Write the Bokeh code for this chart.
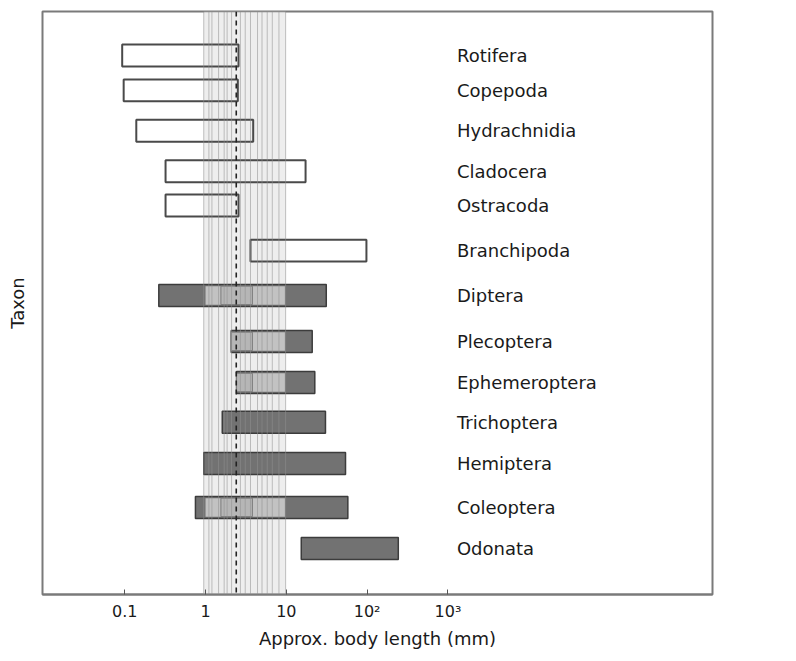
from bokeh.plotting import figure
from bokeh.models import (FixedTicker, Span, ColumnDataSource, BoxAnnotation,
                          Range1d)
from bokeh.core.properties import value
from bokeh.embed import file_html
from bokeh.resources import INLINE

# ---------------- data ----------------
taxa = ["Rotifera", "Copepoda", "Hydrachnidia", "Cladocera", "Ostracoda",
        "Branchipoda", "Diptera", "Plecoptera", "Ephemeroptera", "Trichoptera",
        "Hemiptera", "Coleoptera", "Odonata"]
# position of each taxon on the (unlabelled) taxon axis, as drawn in the original
row_pos = [12.0, 11.15, 10.17, 9.18, 8.35, 7.25, 6.16, 5.04, 4.04, 3.07, 2.07, 1.0, 0.0]
min_len = [0.093, 0.097, 0.139, 0.32, 0.32, 3.6, 0.264, 2.08, 2.42, 1.61, 0.95, 0.75, 15.3]
max_len = [2.56, 2.51, 3.89, 17.3, 2.56, 98, 31.2, 20.9, 22.5, 30.5, 54, 57.7, 243]
filled = [False, False, False, False, False, False, True, True, True, True, True, True, True]

# light sub-range (overlap with the grey band) for some insect taxa
sub_taxa = ["Diptera", "Plecoptera", "Ephemeroptera", "Coleoptera"]
sub_lo = [1.0, 2.08, 2.42, 1.0]
sub_hi = [9.6, 9.6, 9.6, 9.6]
inner_lo = [1.55, 2.08, 2.42, 1.55]
inner_hi = [3.8, 3.8, 3.8, 3.8]

# vertical reference lines (mm) forming the grey band, and the dashed mean
band_lines = [0.95, 1.1, 1.2, 1.45, 1.7, 1.85, 2.1, 2.7, 3.1, 3.6, 4.4, 5.0, 5.8, 6.7, 8.1, 9.8]
band_lo, band_hi = 0.95, 9.8
dashed_mean = 2.4

tick_values = [0.1, 1, 10, 100, 1000]
tick_labels = ["0.1", "1", "10", "10\u00b2", "10\u00b3"]

x_label = "Approx. body length (mm)"
y_label = "Taxon"
label_x = 1000

FONT = "DejaVu Sans"
TXT = "#1a1a1a"

row = dict(zip(taxa, row_pos))

# ---------------- figure ----------------
p = figure(width=790, height=658, x_axis_type="log", x_range=(0.0096, 1.88e6),
           y_range=Range1d(-1.12, 13.07), output_backend="svg",
           toolbar_location=None,
           min_border_left=42, min_border_right=78, min_border_top=11,
           min_border_bottom=64)

p.xgrid.visible = False
p.ygrid.visible = False
p.outline_line_color = "#7a7a7a"
p.outline_line_width = 2
p.background_fill_color = "white"

# band background
p.add_layout(BoxAnnotation(left=band_lo, right=band_hi, fill_color="#e2e2e2",
                           fill_alpha=0.6, line_color=None, level="underlay"))

# bars
open_src = ColumnDataSource(dict(
    y=[row[t] for t, f in zip(taxa, filled) if not f],
    l=[a for a, f in zip(min_len, filled) if not f],
    r=[b for b, f in zip(max_len, filled) if not f]))
fill_src = ColumnDataSource(dict(
    y=[row[t] for t, f in zip(taxa, filled) if f],
    l=[a for a, f in zip(min_len, filled) if f],
    r=[b for b, f in zip(max_len, filled) if f]))
sub_y = [row[t] for t in sub_taxa]

p.hbar(y="y", left="l", right="r", height=0.535, source=open_src,
       fill_color=None, line_color="#4a4a4a", line_width=2)
p.hbar(y="y", left="l", right="r", height=0.535, source=fill_src,
       fill_color="#727272", line_color="#3c3c3c", line_width=1.5)
p.hbar(y=sub_y, left=sub_lo, right=sub_hi, height=0.45,
       fill_color="#c2c2c2", line_color=None)
p.hbar(y=sub_y, left=inner_lo, right=inner_hi, height=0.45,
       fill_color="#b6b6b6", line_color="#7a7a7a", line_width=1)

# band lines on top
for v in band_lines:
    p.add_layout(Span(location=v, dimension="height", line_color="#8f8f8f",
                      line_alpha=0.55, line_width=1))
p.add_layout(Span(location=dashed_mean, dimension="height", line_color="#222222",
                  line_width=1.6, line_dash="5 4"))

# taxon names
p.text(x=[label_x] * len(taxa), y=row_pos, text=taxa, text_font=value(FONT),
       text_font_size="18px", text_baseline="middle", text_align="left",
       text_color=TXT, x_offset=9)

# x axis
xa = p.xaxis[0]
xa.ticker = FixedTicker(ticks=tick_values)
xa.major_label_overrides = {v: s for v, s in zip(tick_values, tick_labels)}
xa.major_tick_in = 5
xa.major_tick_out = 0
xa.minor_tick_line_color = None
xa.major_tick_line_color = "#555555"
xa.axis_line_color = "#7a7a7a"
xa.axis_line_width = 2
xa.major_label_text_font = FONT
xa.major_label_text_font_size = "16px"
xa.major_label_text_color = TXT
xa.major_label_standoff = 7
xa.axis_label = x_label
xa.axis_label_text_font = FONT
xa.axis_label_text_font_size = "18px"
xa.axis_label_text_font_style = "normal"
xa.axis_label_text_color = TXT
xa.axis_label_standoff = 4

# y axis: label only
ya = p.yaxis[0]
ya.ticker = FixedTicker(ticks=[])
ya.axis_line_color = None
ya.major_tick_line_color = None
ya.minor_tick_line_color = None
ya.major_label_standoff = 0
ya.axis_label = y_label
ya.axis_label_standoff = 15
ya.axis_label_text_font = FONT
ya.axis_label_text_font_size = "18px"
ya.axis_label_text_font_style = "normal"
ya.axis_label_text_color = TXT

open("out.html", "w").write(file_html(p, INLINE))
